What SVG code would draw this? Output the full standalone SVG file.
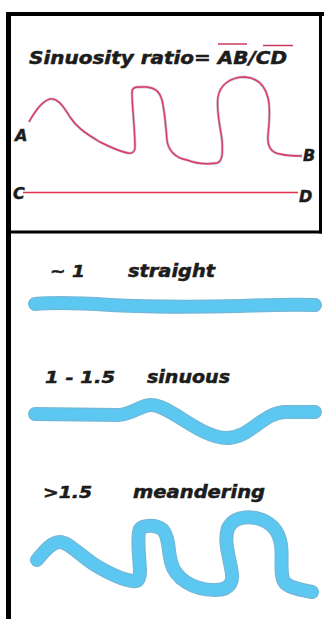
<svg xmlns="http://www.w3.org/2000/svg" width="324" height="619" viewBox="0 0 324 619">
<style>
.t{font-family:"DejaVu Sans","Liberation Sans",sans-serif;font-weight:bold;font-style:italic;fill:#1c1c1c;stroke:#1c1c1c;stroke-width:0.5}
.river-edge{fill:none;stroke:#72b8d6;stroke-width:14;stroke-linecap:round;stroke-linejoin:round}
.river{fill:none;stroke:#5cc8f2;stroke-width:11.5;stroke-linecap:round;stroke-linejoin:round}
.pink-shadow{fill:none;stroke:#d2c4c8;stroke-width:2.8}
.pink{fill:none;stroke:#d8386c;stroke-width:1.4}
</style>
<rect width="324" height="619" fill="#ffffff"/>
<g id="frame" stroke="#000" fill="none">
  <line x1="6" y1="14" x2="324" y2="14" stroke-width="4"/>
  <line x1="8.5" y1="12" x2="8.5" y2="619" stroke-width="5"/>
  <line x1="320.5" y1="12" x2="320.5" y2="233.5" stroke-width="3"/>
  <line x1="8" y1="232" x2="322" y2="232" stroke-width="3"/>
</g>
<g id="title">
  <text class="t" x="29" y="64" font-size="17" textLength="258" lengthAdjust="spacingAndGlyphs">Sinuosity ratio= AB/CD</text>
  <line x1="218" y1="44" x2="247" y2="44" stroke="#c83a5c" stroke-width="1.5"/>
  <line x1="263" y1="45.5" x2="293" y2="45.5" stroke="#c83a5c" stroke-width="1.5"/>
</g>
<g id="connectors">
  <g id="curve-AB">
    <path class="pink-shadow" d="M29,122 C34,113 42,101 50,99 C57,98 62,104 70,117 C76,126 83,132 100,142 C112,148 122,152 128,153 C133,154 135,151 135,147 C135,130 132,105 132,93 C132,88 134,87 140,87 L147,87 C154,88 159,90 162,100 C165,112 166,130 167,140 C168,150 175,158 187,160 C195,163 205,165 217,163 C222,161 223,156 222,140 C220,125 216,110 218,97 C220,85 230,77 245,77 C258,78 265,85 268,98 C271,110 269,125 268,135 C267,148 272,153 280,154 C288,156 295,156 302,156"/>
    <path class="pink" d="M29,122 C34,113 42,101 50,99 C57,98 62,104 70,117 C76,126 83,132 100,142 C112,148 122,152 128,153 C133,154 135,151 135,147 C135,130 132,105 132,93 C132,88 134,87 140,87 L147,87 C154,88 159,90 162,100 C165,112 166,130 167,140 C168,150 175,158 187,160 C195,163 205,165 217,163 C222,161 223,156 222,140 C220,125 216,110 218,97 C220,85 230,77 245,77 C258,78 265,85 268,98 C271,110 269,125 268,135 C267,148 272,153 280,154 C288,156 295,156 302,156"/>
  </g>
  <line id="line-CD" x1="23" y1="192.5" x2="298" y2="192.5" stroke="#e0304a" stroke-width="1.5"/>
</g>
<g id="labels">
  <text class="t" x="15" y="141" font-size="16">A</text>
  <text class="t" x="303" y="161" font-size="16">B</text>
  <text class="t" x="13" y="199" font-size="16">C</text>
  <text class="t" x="299" y="201.5" font-size="16">D</text>
</g>
<g id="straight">
  <text class="t" x="50" y="277" font-size="16" textLength="35" lengthAdjust="spacingAndGlyphs">~ 1</text>
  <text class="t" x="128" y="277" font-size="17" textLength="87" lengthAdjust="spacingAndGlyphs">straight</text>
  <path class="river-edge" d="M35,304 C60,302 80,303 110,305 C150,307 200,307 240,306 C270,305 290,304 315,305"/>
  <path class="river" d="M35,304 C60,302 80,303 110,305 C150,307 200,307 240,306 C270,305 290,304 315,305"/>
</g>
<g id="sinuous">
  <text class="t" x="45" y="383" font-size="16" textLength="70" lengthAdjust="spacingAndGlyphs">1 - 1.5</text>
  <text class="t" x="147" y="383" font-size="17" textLength="83" lengthAdjust="spacingAndGlyphs">sinuous</text>
  <path class="river-edge" d="M35,414 L118,415 C132,415 140,405 151,405 C170,405 200,438 227,438 C250,438 262,413 285,412 L315,412"/>
  <path class="river" d="M35,414 L118,415 C132,415 140,405 151,405 C170,405 200,438 227,438 C250,438 262,413 285,412 L315,412"/>
</g>
<g id="meandering">
  <text class="t" x="43" y="498" font-size="16" textLength="49" lengthAdjust="spacingAndGlyphs">&gt;1.5</text>
  <text class="t" x="133" y="498" font-size="17" textLength="132" lengthAdjust="spacingAndGlyphs">meandering</text>
  <path class="river-edge" d="M37,560 C45,550 52,542 60,542 C68,542 80,555 95,565 C110,574 125,580 133,581 C139,582 140,577 140,570 C139,555 137,535 140,529 C143,525 156,524 163,530 C169,537 168,550 171,562 C175,578 192,590 215,590 C232,590 234,580 231,568 C228,552 224,540 228,528 C233,518 245,516 256,518 C270,521 279,530 281,545 C283,560 279,575 285,583 C291,588 300,590 312,592"/>
  <path class="river" d="M37,560 C45,550 52,542 60,542 C68,542 80,555 95,565 C110,574 125,580 133,581 C139,582 140,577 140,570 C139,555 137,535 140,529 C143,525 156,524 163,530 C169,537 168,550 171,562 C175,578 192,590 215,590 C232,590 234,580 231,568 C228,552 224,540 228,528 C233,518 245,516 256,518 C270,521 279,530 281,545 C283,560 279,575 285,583 C291,588 300,590 312,592"/>
</g>
</svg>
